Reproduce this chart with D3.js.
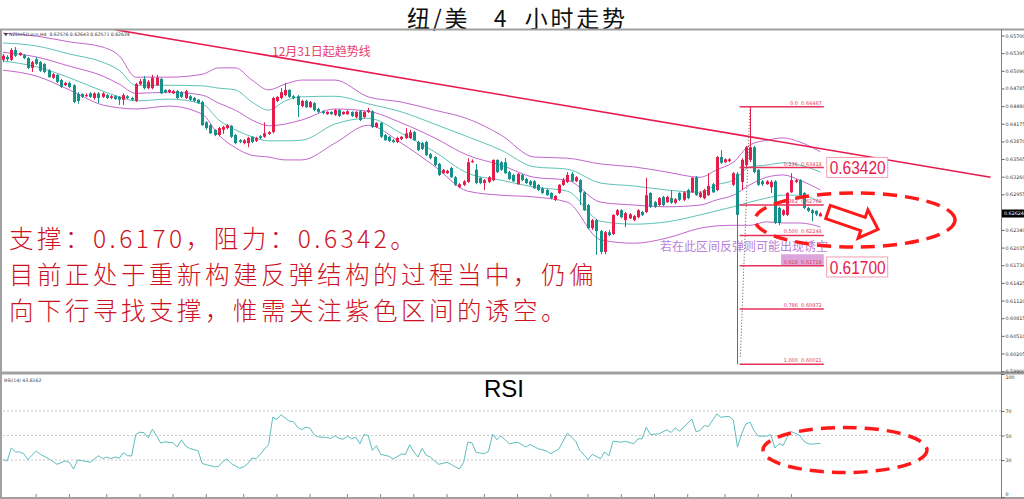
<!DOCTYPE html>
<html><head><meta charset="utf-8">
<script src="https://cdn.jsdelivr.net/npm/d3@7"></script>
<style>body{margin:0;background:#fff;}svg{display:block;}text{white-space:pre;}</style>
</head><body>
<svg id="c" width="1024" height="499"></svg>
<script>
// ---------------- DATA ----------------
const opens=[.6528,.6533,.6528,.6545,.6536,.6536,.6531,.6514,.6529,.6524,
.6521,.6510,.6497,.6502,.6493,.6484,.6488,.6484,.6469,.6469,
.6465,.6470,.6462,.6470,.6464,.6467,.6462,.6465,.6464,.6459,
.6465,.6462,.6457,.6486,.6495,.6479,.6479,.6484,.6495,.6476,
.6472,.6470,.6474,.6472,.6462,.6465,.6462,.6459,.6455,.6420,
.6415,.6407,.6398,.6407,.6410,.6414,.6398,.6389,.6384,.6384,
.6395,.6388,.6396,.6395,.6400,.6403,.6457,.6462,.6467,.6476,
.6465,.6465,.6448,.6457,.6446,.6453,.6443,.6439,.6434,.6438,
.6433,.6441,.6434,.6434,.6438,.6429,.6439,.6429,.6438,.6439,
.6412,.6419,.6398,.6395,.6389,.6386,.6391,.6393,.6393,.6403,
.6386,.6384,.6386,.6365,.6360,.6348,.6332,.6332,.6341,.6325,
.6308,.6312,.6317,.6351,.6338,.6324,.6315,.6317,.6320,.6355,
.6351,.6351,.6334,.6329,.6313,.6329,.6322,.6318,.6318,.6312,
.6306,.6303,.6298,.6286,.6298,.6312,.6317,.6331,.6318,.6320,
.6299,.6277,.6237,.6251,.6232,.6196,.6230,.6227,.6260,.6268,
.6251,.6254,.6251,.6256,.6265,.6265,.6298,.6282,.6277,.6291,
.6282,.6289,.6281,.6298,.6286,.6303,.6299,.6325,.6291,.6289,
.6294,.6313,.6303,.6360,.6351,.6353,.6312,.6331,.6317,.6346,
.6355,.6377,.6338,.6318,.6313,.6308,.6318,.6272,.6260,.6260,
.6299,.6317,.6320,.6298,.6272,.6268,.6267,.62576];
const closes=[.6535,.6529,.6545,.6535,.6540,.6531,.6514,.6524,.6521,.6509,
.6507,.6498,.6503,.6490,.6481,.6488,.6481,.6455,.6457,.6464,
.6467,.6464,.6470,.6462,.6470,.6462,.6465,.6460,.6459,.6467,
.6462,.6459,.6486,.6491,.6479,.6490,.6497,.6497,.6470,.6472,
.6476,.6474,.6462,.6464,.6474,.6459,.6457,.6453,.6415,.6410,
.6401,.6398,.6410,.6412,.6415,.6395,.6384,.6386,.6389,.6393,
.6386,.6393,.6393,.6401,.6403,.6462,.6464,.6472,.6476,.6464,
.6462,.6450,.6457,.6446,.6455,.6441,.6438,.6436,.6438,.6434,
.6441,.6431,.6438,.6439,.6431,.6438,.6424,.6438,.6441,.6412,
.6419,.6395,.6389,.6388,.6386,.6393,.6395,.6401,.6403,.6389,
.6372,.6374,.6363,.6358,.6346,.6329,.6338,.6336,.6325,.6312,
.6313,.6318,.6351,.6353,.6315,.6315,.6320,.6325,.6355,.6334,
.6338,.6332,.6322,.6318,.6331,.6320,.6315,.6312,.6306,.6303,
.6298,.6294,.6289,.6293,.6312,.6320,.6329,.6318,.6325,.6299,
.6268,.6237,.6251,.6232,.6196,.6230,.6225,.6260,.6268,.6256,
.6263,.6261,.6258,.6268,.6260,.6294,.6274,.6274,.6289,.6277,
.6291,.6281,.6287,.6286,.6299,.6289,.6324,.6294,.6298,.6303,
.6310,.6299,.6360,.6350,.6356,.6356,.6332,.6260,.6355,.6377,
.6377,.6334,.6312,.6313,.6318,.6317,.6246,.6246,.6268,.6298,
.6320,.6320,.6294,.6272,.6267,.6263,.6261,.62624];
const highs=[.6538,.6536,.6548,.6550,.6541,.6538,.6533,.6526,.6533,.6526,
.6522,.6512,.6505,.6503,.6495,.6490,.6490,.6486,.6472,.6470,
.6470,.6472,.6472,.6472,.6472,.6469,.6467,.6467,.6465,.6470,
.6467,.6464,.6488,.6495,.6500,.6493,.6502,.6502,.6497,.6477,
.6477,.6476,.6476,.6474,.6476,.6467,.6464,.6460,.6457,.6422,
.6417,.6408,.6412,.6414,.6417,.6415,.6400,.6391,.6391,.6395,
.6396,.6395,.6398,.6420,.6405,.6464,.6465,.6479,.6488,.6477,
.6467,.6467,.6459,.6459,.6457,.6455,.6445,.6441,.6439,.6439,
.6443,.6443,.6439,.6441,.6439,.6439,.6441,.6439,.6445,.6441,
.6420,.6420,.6400,.6396,.6391,.6395,.6396,.6410,.6407,.6405,
.6388,.6386,.6388,.6367,.6362,.6350,.6339,.6338,.6343,.6327,
.6315,.6320,.6358,.6356,.6348,.6325,.6322,.6327,.6356,.6356,
.6353,.6358,.6336,.6331,.6332,.6331,.6324,.6320,.6320,.6313,
.6308,.6305,.6299,.6294,.6313,.6324,.6334,.6334,.6327,.6322,
.6301,.6279,.6253,.6253,.6234,.6232,.6234,.6261,.6270,.6270,
.6265,.6263,.6260,.6270,.6267,.6324,.6299,.6284,.6291,.6293,
.6293,.6303,.6289,.6299,.6301,.6305,.6325,.6327,.6301,.6305,
.6332,.6315,.6362,.6372,.6358,.6358,.6334,.6334,.6358,.6379,
.64467,.6379,.6339,.6320,.6320,.6320,.6320,.6274,.6270,.6299,
.6332,.6322,.6322,.6299,.6274,.6270,.6268,.62643];
const lows=[.6524,.6526,.6526,.6533,.6535,.6529,.6512,.6507,.6519,.6507,
.6505,.6497,.6495,.6488,.6479,.6483,.6479,.6453,.6452,.6462,
.6464,.6462,.6459,.6453,.6462,.6460,.6460,.6459,.6450,.6450,
.6460,.6457,.6455,.6484,.6477,.6477,.6477,.6483,.6469,.6470,
.6470,.6469,.6460,.6462,.6460,.6457,.6455,.6452,.6414,.6407,
.6400,.6396,.6396,.6400,.6408,.6393,.6382,.6384,.6382,.6377,
.6384,.6386,.6391,.6393,.6398,.6401,.6455,.6460,.6465,.6462,
.6460,.6429,.6446,.6445,.6445,.6439,.6436,.6434,.6433,.6433,
.6431,.6429,.6433,.6433,.6429,.6427,.6422,.6427,.6436,.6410,
.6410,.6393,.6388,.6386,.6384,.6384,.6389,.6391,.6391,.6388,
.6370,.6372,.6362,.6356,.6344,.6327,.6331,.6331,.6324,.6310,
.6306,.6310,.6315,.6350,.6313,.6313,.6303,.6315,.6318,.6332,
.6336,.6331,.6320,.6317,.6312,.6318,.6313,.6310,.6305,.6301,
.6296,.6293,.6287,.6284,.6296,.6310,.6315,.6317,.6317,.6277,
.6267,.6235,.6234,.6191,.6192,.6192,.6223,.6225,.6258,.6254,
.6239,.6253,.6249,.6254,.6258,.6263,.6272,.6272,.6275,.6275,
.6281,.6279,.6279,.6284,.6284,.6287,.6298,.6293,.6289,.6287,
.6293,.6298,.6301,.6348,.6350,.6351,.6310,.60021,.6303,.6341,
.6351,.6332,.6310,.6310,.6312,.6298,.6244,.6242,.6258,.6258,
.6298,.6315,.6293,.6270,.6265,.6249,.6258,.62571];

// Bollinger bands read at sample bars
const bandIdx=[0,8,16,24,28,32,40,48,52,56,60,64,68,72,80,88,96,104,112,120,128,136,144,152,160,168,172,176,180,184,188,192,197];
const bbUpper2=[.6574,.6569,.6559,.6550,.6535,.6498,.6498,.6503,.6514,.6514,.6493,.6476,.6486,.6493,.6493,.6464,.6455,.6441,.6426,.6398,.6360,.6358,.6348,.6343,.6334,.6325,.6338,.6351,.6381,.6389,.6393,.6386,.6369];
const bbUpper1=[.6557,.6552,.6538,.6524,.6510,.6484,.6484,.6483,.6479,.6476,.6455,.6441,.6457,.6464,.6465,.6452,.6438,.6417,.6395,.6372,.6343,.6339,.6315,.6310,.6303,.6299,.6312,.6320,.6343,.6346,.6350,.6346,.6334];
const bbMiddle=[.6541,.6533,.6517,.6500,.6486,.6470,.6472,.6467,.6453,.6441,.6424,.6414,.6417,.6424,.6443,.6439,.6419,.6393,.6363,.6346,.6325,.6320,.6282,.6277,.6274,.6277,.6286,.6294,.6312,.6325,.6329,.6320,.6303];
const bbLower1=[.6526,.6516,.6497,.6474,.6464,.6457,.6460,.6452,.6424,.6407,.6395,.6388,.6388,.6389,.6417,.6427,.6401,.6369,.6332,.6320,.6308,.6301,.6249,.6244,.6248,.6260,.6267,.6274,.6282,.6289,.6294,.6294,.6282];
const bbLower2=[.6510,.6500,.6476,.6450,.6445,.6443,.6448,.6434,.6398,.6376,.6363,.6360,.6355,.6355,.6384,.6415,.6384,.6344,.6301,.6294,.6291,.6282,.6217,.6211,.6220,.6237,.6241,.6242,.6242,.6248,.6246,.6246,.6239];

// RSI(14) vertices
const rsiIdx=[0,1,2,3,4,5,6,8,9,11,12,13,15,16,17,18,20,21,23,24,25,26,27,28,29,30,31,32,33,34,35,36,37,38,39,41,42,43,44,45,47,48,49,51,52,53,54,55,57,58,59,60,61,62,63,64,65,66,67,69,70,71,72,73,74,75,76,78,79,80,81,82,83,84,85,86,87,88,89,90,91,93,94,96,97,98,99,100,101,102,103,104,105,107,108,109,110,111,112,113,114,116,117,118,119,120,121,122,124,126,127,129,131,132,134,136,138,139,141,142,144,145,146,147,149,150,152,153,154,155,156,158,160,161,162,163,166,167,168,169,170,172,173,175,176,177,178,179,180,181,182,184,185,186,187,188,189,190,192,193,194,195,197];
const rsiVal=[30.4,29.3,39.8,36.6,36.6,35.2,30.4,37.4,34.7,31.2,29.0,26.6,29.3,28.2,22.8,30.1,29.0,28.2,33.6,31.2,32.5,31.2,32.5,31.5,36.0,33.6,33.3,50.8,52.7,52.2,48.1,55.1,50.0,43.8,44.9,44.1,40.6,46.5,41.4,39.5,37.6,27.2,26.3,24.5,25.0,29.0,30.9,27.2,23.4,24.5,27.2,31.7,31.2,34.7,39.0,42.5,64.8,63.2,66.9,61.6,61.3,56.7,54.8,56.7,55.9,50.5,48.9,48.4,47.6,49.7,47.6,47.0,49.5,47.3,48.7,43.3,50.8,50.0,37.9,41.7,34.7,33.1,30.9,34.9,34.7,42.5,36.6,32.5,39.5,33.9,32.5,29.3,26.6,28.2,26.6,24.5,22.8,28.2,44.6,44.1,36.3,35.2,37.1,51.1,46.5,49.7,46.5,43.3,44.6,40.6,42.7,39.2,37.4,35.2,39.2,51.9,45.4,37.9,30.4,34.7,31.2,36.6,33.3,45.4,44.6,45.2,43.3,47.3,47.3,56.7,50.8,51.3,54.6,52.4,56.2,53.5,63.2,53.2,54.0,58.1,57.3,67.5,64.8,65.6,62.6,40.6,51.3,59.4,60.8,54.0,49.5,49.5,50.8,39.8,43.3,41.9,48.7,53.2,50.0,45.4,43.3,43.0,43.6];

// Trend line anchors (bar index, price)
const trendIdx=[27,238];
const trendPrice=[0.6580,0.6325];

// Fibonacci retracement
const fibRatios=["0.0","0.236","0.382","0.500","0.618","0.786","1.000"];
const fibPrices=[0.64467,0.63418,0.62769,0.62244,0.61719,0.60972,0.60021];
const fibSpan=[177.5,197.8];
const fibAnchorIdx=[180,177.7];
const fibAnchorPrice=[0.64467,0.6015];
const zonePrices=[0.61719,0.6192];
const zoneIdx=[187.5,197.8];

// Axis ticks
const priceTicks=[0.65700,0.65395,0.65090,0.64785,0.64480,0.64175,0.63870,0.63565,0.63260,0.62955,0.62340,0.62035,0.61730,0.61425,0.61120,0.60815,0.60510,0.60205,0.59900];
const rsiTicks=[100,70,50,30,0];
const rsiGrid=[70,50,30];
const timeTickIdx=[8,16,25,33,41,49,58,66,74,83,91,99,107,116,124,132,141,149,157,165,174,182,190];
const lastPrice=0.62624;
const boxLabels=[{t:"0.63420",p:0.6342,i:198.5},{t:"0.61700",p:0.6170,i:198.5}];

// ---------------- DRAW ----------------
const svg=d3.select("#c");
const RED="#e41d4c", TEAL="#15918a", PURP="#c266cc", TEAL2="#5ec2b8";
const x=d3.scaleLinear().domain([0,240.5]).range([3,1001]);
const y=d3.scaleLinear().domain([0.59885,0.65795]).range([372,30]);
const yR=d3.scaleLinear().domain([0,100]).range([497,374]);

svg.append("rect").attr("width",1024).attr("height",499).attr("fill","#fff");

// title
svg.append("text").attr("x",407).attr("y",26.5)
 .attr("font-family","'Noto Sans CJK SC',sans-serif").attr("font-size",23).attr("letter-spacing",2.7).attr("fill","#111")
 .text("纽/美   4  小时走势");

const defs=svg.append("defs");
defs.append("clipPath").attr("id","cp").append("rect").attr("x",2).attr("y",30).attr("width",999).attr("height",342);
defs.append("clipPath").attr("id","cr").append("rect").attr("x",2).attr("y",375).attr("width",999).attr("height",122);

const main=svg.append("g").attr("clip-path","url(#cp)");

// Bollinger bands
const bandLine=arr=>d3.line().x((d,k)=>x(bandIdx[k])).y(d=>y(d)).curve(d3.curveMonotoneX)(arr);
[[bbUpper2,PURP],[bbMiddle,PURP],[bbLower2,PURP],[bbUpper1,TEAL2],[bbLower1,TEAL2]].forEach(([a,c])=>{
  main.append("path").attr("d",bandLine(a)).attr("fill","none").attr("stroke",c).attr("stroke-width",1);
});

// candles
const idx=d3.range(opens.length);
const cg=main.append("g");
cg.selectAll("line.w").data(idx).join("line")
 .attr("x1",i=>Math.round(x(i))+0.5).attr("x2",i=>Math.round(x(i))+0.5)
 .attr("y1",i=>y(highs[i])).attr("y2",i=>y(lows[i]))
 .attr("stroke",i=>closes[i]>=opens[i]?RED:TEAL).attr("stroke-width",1);
cg.selectAll("rect").data(idx).join("rect")
 .attr("x",i=>Math.round(x(i))-1).attr("width",3)
 .attr("y",i=>y(Math.max(opens[i],closes[i])))
 .attr("height",i=>Math.max(1,Math.abs(y(opens[i])-y(closes[i]))))
 .attr("fill",i=>closes[i]>=opens[i]?RED:TEAL);

// trend line
main.append("line").attr("x1",x(trendIdx[0])).attr("y1",y(trendPrice[0]))
 .attr("x2",x(trendIdx[1])).attr("y2",y(trendPrice[1])).attr("stroke","#e8194b").attr("stroke-width",1.6);
svg.append("text").attr("x",272).attr("y",56).attr("font-family","'Noto Sans CJK SC',sans-serif")
 .attr("font-size",12).attr("fill","#e8406a").text("12月31日起趋势线");

// purple zone
main.append("rect").attr("x",x(zoneIdx[0])).attr("width",x(zoneIdx[1])-x(zoneIdx[0]))
 .attr("y",y(zonePrices[1])).attr("height",y(zonePrices[0])-y(zonePrices[1])).attr("fill","#dca6dc");

// fib
main.append("line").attr("x1",x(fibAnchorIdx[0])).attr("y1",y(fibAnchorPrice[0]))
 .attr("x2",x(fibAnchorIdx[1])).attr("y2",y(fibAnchorPrice[1]))
 .attr("stroke","#555").attr("stroke-width",1).attr("stroke-dasharray","1,2");
fibPrices.forEach((p,k)=>{
  main.append("line").attr("x1",x(fibSpan[0])).attr("x2",x(fibSpan[1])).attr("y1",y(p)).attr("y2",y(p))
   .attr("stroke","#e6335a").attr("stroke-width",1.5);
  main.append("text").attr("x",x(fibSpan[1])-2).attr("y",y(p)-2).attr("text-anchor","end")
   .attr("font-family","DejaVu Sans,sans-serif").attr("font-size",5).attr("fill","#e6335a")
   .text(fibRatios[k]+"  "+p.toFixed(5));
});

// purple note
svg.append("text").attr("x",660).attr("y",251).attr("font-family","'Noto Sans CJK SC',sans-serif")
 .attr("font-size",12).attr("fill","#b97fd9").text("若在此区间反弹则可能出现诱空");

// price boxes
boxLabels.forEach(b=>{
  const yc=y(b.p);
  svg.append("rect").attr("x",x(b.i)).attr("y",yc-10).attr("width",61).attr("height",20)
   .attr("fill","#fff").attr("stroke","#f2a0b4").attr("stroke-width",1);
  svg.append("text").attr("x",x(b.i)+3).attr("y",yc+7).attr("font-family","'Liberation Sans',Arial,sans-serif")
   .attr("font-size",18).attr("fill","#e8194b").attr("textLength",56).attr("lengthAdjust","spacingAndGlyphs").text(b.t);
});

// ellipse & arrow (price panel)
svg.append("ellipse").attr("cx",855).attr("cy",220).attr("rx",100).attr("ry",27)
 .attr("fill","none").attr("stroke","#ff1a1a").attr("stroke-width",3.5).attr("stroke-dasharray","14,8");
svg.append("polygon").attr("points",[[0,-7],[37,-7],[37,-15],[53,0],[37,15],[37,7],[0,7]].map(p=>p.join(",")).join(" "))
 .attr("transform","translate(828,212) rotate(19)").attr("fill","#fff").attr("stroke","#ff1a1a").attr("stroke-width",3);

// Chinese annotation
const note=["支撑：0.6170，阻力：0.6342。","目前正处于重新构建反弹结构的过程当中，仍偏","向下行寻找支撑，惟需关注紫色区间的诱空。"];
note.forEach((t,k)=>svg.append("text").attr("x",9).attr("y",248+36*k)
 .attr("font-family","'Noto Sans CJK SC',sans-serif").attr("font-weight",300).attr("font-size",24.5)
 .attr("letter-spacing",3.5).attr("fill","#cc1122").text(t));

// top-left info
svg.append("text").attr("x",4).attr("y",36).attr("font-family","DejaVu Sans,sans-serif").attr("font-size",4.6).attr("fill","#333")
 .text("▼ NZDUSD.ecn,H4  0.62576 0.62643 0.62571 0.62624");

// RSI panel
const rg=svg.append("g");
rsiGrid.forEach(v=>rg.append("line").attr("x1",3).attr("x2",1001).attr("y1",yR(v)).attr("y2",yR(v))
 .attr("stroke","#c8c8c8").attr("stroke-width",1).attr("stroke-dasharray","2,2"));
rg.append("path").attr("clip-path","url(#cr)")
 .attr("d",d3.line().x((d,k)=>x(rsiIdx[k])).y(d=>yR(d))(rsiVal))
 .attr("fill","none").attr("stroke","#5dbdbd").attr("stroke-width",1);
svg.append("text").attr("x",504).attr("y",397).attr("text-anchor","middle").attr("font-family","'Liberation Sans',Arial,sans-serif")
 .attr("font-size",24).attr("fill","#000").text("RSI");
svg.append("text").attr("x",4).attr("y",382).attr("font-family","DejaVu Sans,sans-serif").attr("font-size",4.6).attr("fill","#333")
 .text("RSI(14) 43.6162");
svg.append("ellipse").attr("cx",845).attr("cy",450).attr("rx",82).attr("ry",22.5)
 .attr("fill","none").attr("stroke","#ff1a1a").attr("stroke-width",3.5).attr("stroke-dasharray","14,8");

// frame
const fr=svg.append("g").attr("stroke","#a0a0a0");
fr.append("line").attr("x1",0).attr("x2",1024).attr("y1",29.5).attr("y2",29.5).attr("stroke-width",2);
fr.append("line").attr("x1",1).attr("x2",1).attr("y1",29).attr("y2",499).attr("stroke-width",2);
fr.append("line").attr("x1",0).attr("x2",1024).attr("y1",373).attr("y2",373).attr("stroke-width",3);
fr.append("line").attr("x1",0).attr("x2",1024).attr("y1",498).attr("y2",498).attr("stroke-width",2);
fr.append("line").attr("x1",1001.5).attr("x2",1001.5).attr("y1",29).attr("y2",499).attr("stroke","#808080").attr("stroke-width",1);

// time ticks
svg.append("g").selectAll("line").data(timeTickIdx).join("line")
 .attr("x1",i=>x(i)).attr("x2",i=>x(i)).attr("y1",494).attr("y2",497).attr("stroke","#888");

// price axis
const ax=svg.append("g").attr("transform","translate(1001.5,0)")
 .call(d3.axisRight(y).tickValues(priceTicks).tickSize(3).tickFormat(d3.format(".5f")));
ax.select(".domain").remove();
ax.selectAll("line").attr("stroke","#666");
ax.selectAll("text").attr("font-family","DejaVu Sans,sans-serif").attr("font-size",4.8).attr("fill","#333").attr("x",4);
svg.append("rect").attr("x",1002).attr("y",y(lastPrice)-4).attr("width",22).attr("height",8).attr("fill","#000");
svg.append("text").attr("x",1004).attr("y",y(lastPrice)+2).attr("font-family","DejaVu Sans,sans-serif").attr("font-size",4.8).attr("fill","#fff").text(lastPrice.toFixed(5));

// rsi axis
const ax2=svg.append("g").attr("transform","translate(1001.5,0)")
 .call(d3.axisRight(yR).tickValues(rsiTicks).tickSize(3));
ax2.select(".domain").remove();
ax2.selectAll("line").attr("stroke","#666");
ax2.selectAll("text").attr("font-family","DejaVu Sans,sans-serif").attr("font-size",4.8).attr("fill","#333").attr("x",4)
 .attr("dy",d=>d===100?"0.9em":(d===0?"-0.3em":"0.32em"));
</script>
</body></html>
